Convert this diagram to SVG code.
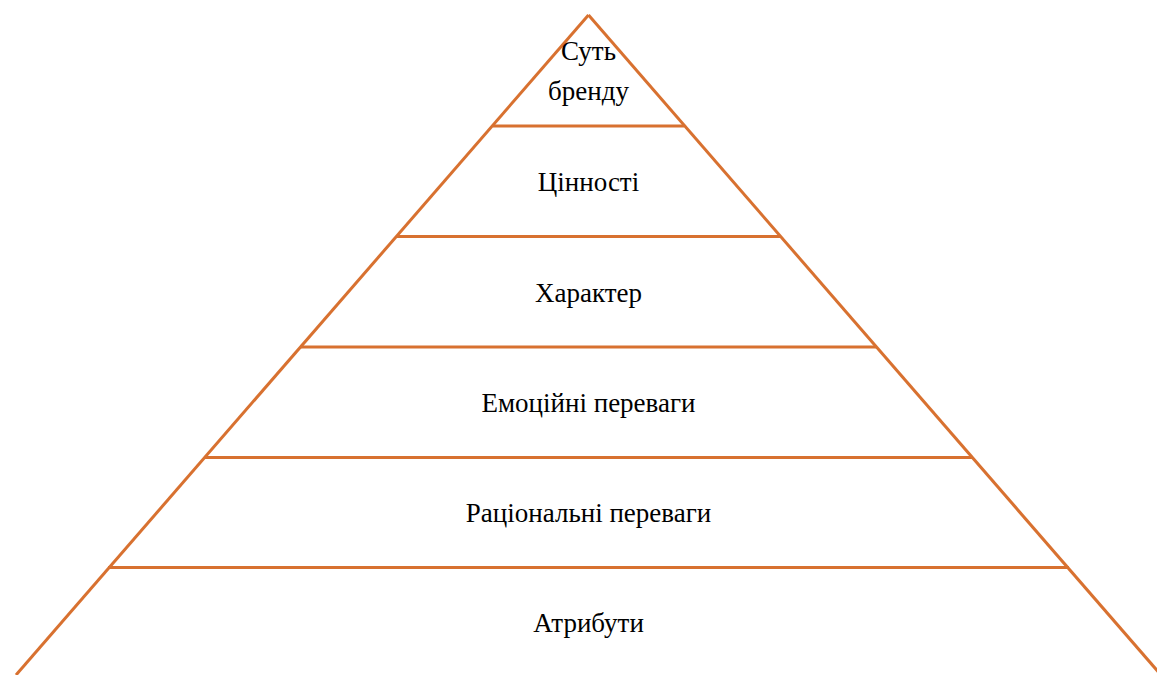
<svg xmlns="http://www.w3.org/2000/svg" width="1157" height="675" viewBox="0 0 1157 675">
<style>
.ln{stroke:#D87130;stroke-width:3;fill:none;stroke-linecap:butt}
.t{font-family:'Liberation Serif','DejaVu Serif',serif;font-size:27px;fill:#000;text-anchor:middle}
</style>
<rect width="1157" height="675" fill="#fff"/>
<g id="connectors">
<path class="ln" d="M588.5 15 L16 675"/>
<path class="ln" d="M588.5 15 L1161 675"/>
<line class="ln" x1="493" y1="126" x2="684" y2="126"/>
<line class="ln" x1="397" y1="236.5" x2="780" y2="236.5"/>
<line class="ln" x1="300" y1="347" x2="877" y2="347"/>
<line class="ln" x1="205" y1="457.5" x2="972" y2="457.5"/>
<line class="ln" x1="108" y1="567.5" x2="1069" y2="567.5"/>
</g>
<g id="essence"><text class="t" x="588.5" y="60">Суть</text><text class="t" x="588.5" y="100">бренду</text></g>
<g id="values"><text class="t" x="588.5" y="191">Цінності</text></g>
<g id="character"><text class="t" x="588.5" y="302">Характер</text></g>
<g id="emotional"><text class="t" x="588.5" y="412">Емоційні переваги</text></g>
<g id="rational"><text class="t" x="588.5" y="522">Раціональні переваги</text></g>
<g id="attributes"><text class="t" x="588.5" y="632">Атрибути</text></g>
</svg>
